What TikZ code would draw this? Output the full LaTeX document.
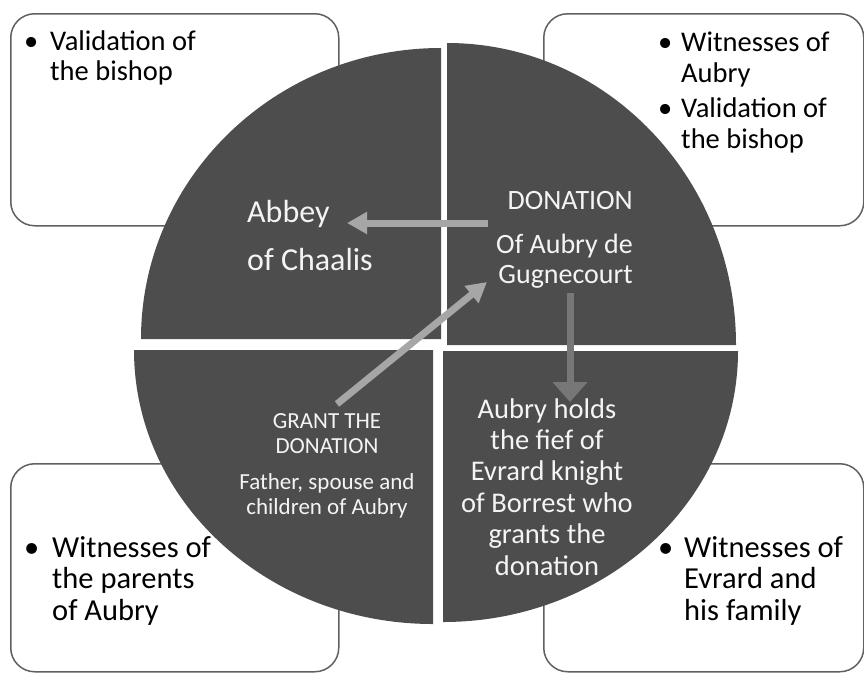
\documentclass[tikz,border=0pt]{standalone}
\usepackage{fontspec}
\setmainfont{Carlito}
\usetikzlibrary{arrows.meta}

\definecolor{quad}{HTML}{4D4D4D}
\definecolor{frame}{HTML}{606060}
\definecolor{arrowlight}{HTML}{A6A6A6}
\definecolor{arrowdark}{HTML}{777777}
\definecolor{quadink}{HTML}{F4F4F4}

\newcommand{\fs}[2]{\fontsize{#1}{#2}\selectfont}
\newcommand{\bul}[1]{\makebox[#1pt][l]{\textbullet}}

\begin{document}
\begin{tikzpicture}[x=1pt,y=-1pt,
  card/.style={draw=frame, line width=1.5pt, fill=white, rounded corners=24pt,
               anchor=north west, inner sep=0pt},
  quarter/.style={fill=quad},
  boxtext/.style={inner sep=0pt, align=left, text=black},
  quadtext/.style={inner sep=0pt, text=quadink},
  flow/.style={line width=7pt, -{Triangle[length=20pt,width=21pt]}},
]
\useasboundingbox (0,0) rectangle (864,673);

% rounded cards behind the disc
\node[card, minimum width=328pt, minimum height=212pt] (cardTL) at (10,13) {};
\node[card, minimum width=320pt, minimum height=212pt] (cardTR) at (543,13) {};
\node[card, minimum width=328pt, minimum height=208pt] (cardBL) at (10,463) {};
\node[card, minimum width=320pt, minimum height=208pt] (cardBR) at (543,463) {};

% the four quarters of the disc
\fill[quarter] (441,339) -- (141,339) arc[start angle=180, end angle=270, x radius=300, y radius=291] -- cycle;
\fill[quarter] (447,345) -- (447,43) arc[start angle=270, end angle=360, x radius=289, y radius=302] -- cycle;
\fill[quarter] (433,350) -- (134,350) arc[start angle=180, end angle=90, x radius=299, y radius=274] -- cycle;
\fill[quarter] (443,351) -- (738,351) arc[start angle=0, end angle=90, x radius=295, y radius=271] -- cycle;

% card texts (anchored at the baseline of their last line)
\node[boxtext, anchor=base west, font=\fs{28.5}{30}] (tTL) at (24,80)
  {\bul{26}Validation of\\\hspace*{26pt}the bishop};
\node[boxtext, anchor=base west, font=\fs{28.5}{31}] (tTR) at (658,148)
  {\bul{23}Witnesses of\\\hspace*{23pt}Aubry\\[4pt]\bul{23}Validation of\\\hspace*{23pt}the bishop};
\node[boxtext, anchor=base west, font=\fs{30.5}{31.5}] (tBL) at (24,620)
  {\bul{28}Witnesses of\\\hspace*{28pt}the parents\\\hspace*{28pt}of Aubry};
\node[boxtext, anchor=base west, font=\fs{30.5}{31.5}] (tBR) at (658,620)
  {\bul{26}Witnesses of\\\hspace*{26pt}Evrard and\\\hspace*{26pt}his family};

% quarter texts
\node[quadtext, align=left, anchor=base west, font=\fs{32}{34}] (abbey) at (247,270)
  {Abbey\\[14pt]of Chaalis};
\node[quadtext, align=right, anchor=base east, font=\fs{28}{30}] (donation) at (633,283)
  {DONATION\\[14pt]Of Aubry de\\Gugnecourt};
\node[quadtext, align=center, anchor=base, font=\fs{23}{25}] (grant) at (327,514)
  {GRANT THE\\DONATION\\[11pt]Father, spouse and\\children of Aubry};
\node[quadtext, align=center, anchor=base, font=\fs{28.5}{31.4}] (fief) at (547,575)
  {Aubry holds\\the fief of\\Evrard knight\\of Borrest who\\grants the\\donation};

% arrows between the quarters
\coordinate (a1s) at (488,223);
\coordinate (a1e) at (347,223);
\coordinate (a2s) at (337,404);
\coordinate (a2e) at (487,282);
\coordinate (a3s) at (570,293);
\coordinate (a3e) at (570,402);
\draw[flow, draw=arrowlight, fill=arrowlight] (a1s) -- (a1e);
\draw[flow, draw=arrowlight, fill=arrowlight] (a2s) -- (a2e);
\draw[line width=7pt, draw=arrowdark, -{Triangle[length=20pt,width=34pt,fill=arrowdark]}] (a3s) -- (a3e);
\end{tikzpicture}
\end{document}
